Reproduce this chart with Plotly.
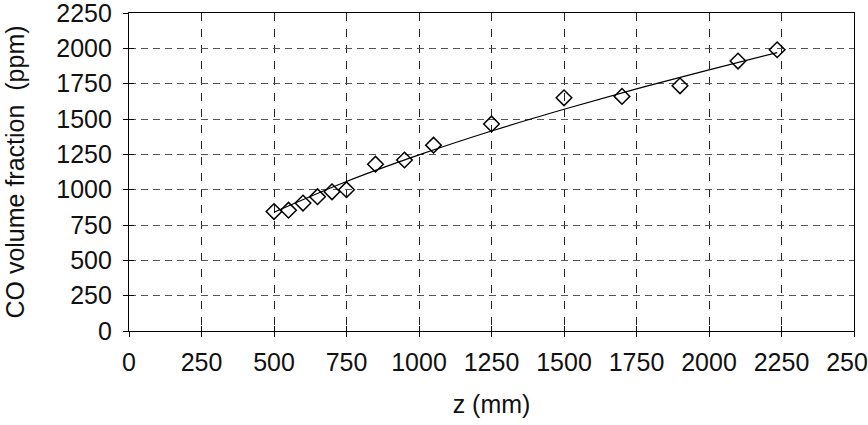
import plotly.graph_objects as go

z_points = [500, 550, 600, 650, 700, 750, 850, 950, 1050, 1250, 1500, 1700, 1900, 2100, 2235]
co_points = [845, 855, 905, 950, 985, 1000, 1180, 1210, 1315, 1465, 1650, 1660, 1735, 1910, 1990]

z_trend = [500, 750, 1000, 1250, 1500, 1750, 2000, 2235]
co_trend = [840, 1058, 1246, 1415, 1569, 1713, 1848, 1970]

x_ticks = [0, 250, 500, 750, 1000, 1250, 1500, 1750, 2000, 2250, 2500]
y_ticks = [0, 250, 500, 750, 1000, 1250, 1500, 1750, 2000, 2250]

font = "Liberation Sans, Arial, sans-serif"
FS = 25

fig = go.Figure()
fig.add_trace(go.Scatter(x=z_trend, y=co_trend, mode="lines", line=dict(color="black", width=1.2, shape="spline"),
                         showlegend=False, hoverinfo="skip"))
fig.add_trace(go.Scatter(x=z_points, y=co_points, mode="markers",
                         marker=dict(symbol="diamond-open", size=12, color="black", line=dict(width=1.5, color="black")),
                         showlegend=False))
# invisible trace for overlay axes (inside ticks)
fig.add_trace(go.Scatter(x=[0], y=[0], xaxis="x2", yaxis="y2", mode="markers",
                         marker=dict(opacity=0), showlegend=False, hoverinfo="skip"))

fig.update_layout(
    width=868, height=425,
    margin=dict(l=129, r=14, t=13, b=94),
    paper_bgcolor="white", plot_bgcolor="white",
    font=dict(family=font, size=FS, color="#111"),
    xaxis=dict(range=[0, 2500], tickvals=x_ticks, ticks="outside", ticklen=5, tickcolor="black",
               showline=True, linecolor="black", linewidth=1.2, mirror=True, automargin=False,
               showgrid=True, gridcolor="#222", griddash="8px,8px", gridwidth=1.2, zeroline=False,
               ticklabeloverflow="allow", ticklabelstandoff=4,
               title=dict(text="z (mm)", standoff=20, font=dict(size=FS)), tickfont=dict(size=FS)),
    yaxis=dict(range=[0, 2250], tickvals=y_ticks, ticks="outside", ticklen=5, tickcolor="black",
               showline=True, linecolor="black", linewidth=1.2, mirror=True, automargin=False,
               showgrid=True, gridcolor="#555", griddash="7px,5px", gridwidth=1.2, zeroline=False,
               ticklabeloverflow="allow", ticklabelstandoff=6,
               title=dict(text="CO volume fraction  (ppm)", standoff=24, font=dict(size=FS)), tickfont=dict(size=FS)),
    xaxis2=dict(range=[0, 2500], tickvals=x_ticks, ticks="inside", ticklen=5, tickcolor="black", automargin=False,
                overlaying="x", showticklabels=False, showgrid=False, zeroline=False),
    yaxis2=dict(range=[0, 2250], tickvals=y_ticks, ticks="inside", ticklen=5, tickcolor="black", automargin=False,
                overlaying="y", showticklabels=False, showgrid=False, zeroline=False),
)

fig.write_html("out.html")
